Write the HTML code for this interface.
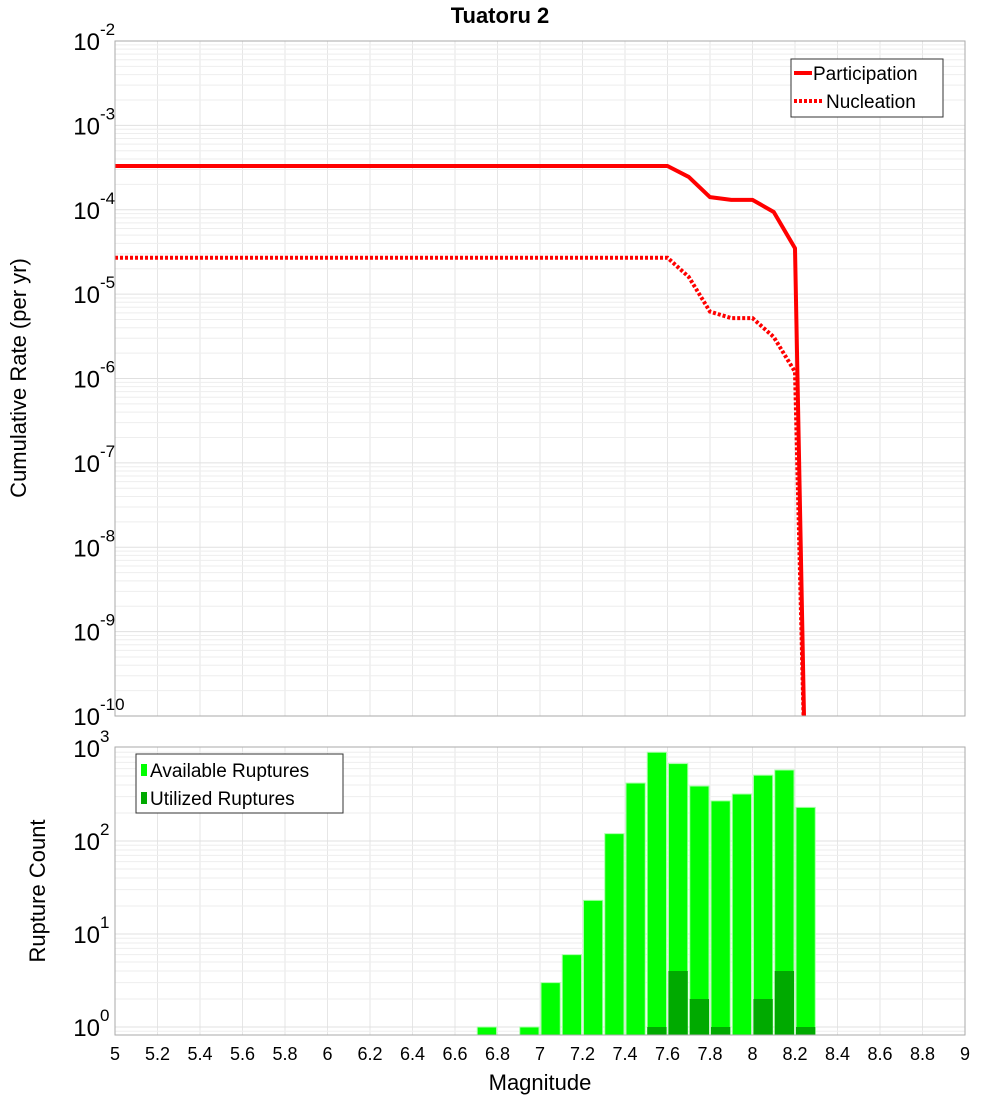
<!DOCTYPE html>
<html><head><meta charset="utf-8"><style>
body{margin:0;background:#fff;}
svg text{font-family:"Liberation Sans","DejaVu Sans",sans-serif;}
</style></head><body>
<svg id="chart" width="1000" height="1100" xmlns="http://www.w3.org/2000/svg">
<defs>
<clipPath id="clipTop"><rect x="115" y="41" width="850" height="675"/></clipPath>
<clipPath id="clipBot"><rect x="115" y="747" width="850" height="288"/></clipPath>
</defs>
<text x="500" y="23" text-anchor="middle" font-size="22" font-weight="bold">Tuatoru 2</text>
<g id="gridTop"></g><g id="gridBot"></g>
<g id="bars" clip-path="url(#clipBot)"></g>
<g id="lines" clip-path="url(#clipTop)"></g>
<rect x="115" y="41" width="850" height="675" fill="none" stroke="#aaa"/>
<rect x="115" y="747" width="850" height="288" fill="none" stroke="#aaa"/>
<g id="axes"></g>
<text transform="translate(26,378) rotate(-90)" text-anchor="middle" font-size="22">Cumulative Rate (per yr)</text>
<text transform="translate(45,891) rotate(-90)" text-anchor="middle" font-size="22">Rupture Count</text>
<text x="540" y="1090" text-anchor="middle" font-size="22">Magnitude</text>
<g>
<rect x="791" y="59" width="152" height="58" fill="#fff" stroke="#333"/>
<line x1="794" y1="73" x2="812" y2="73" stroke="red" stroke-width="4"/>
<text x="813" y="80" font-size="19">Participation</text>
<line x1="794" y1="101" x2="822" y2="101" stroke="red" stroke-width="4" stroke-dasharray="3,2"/>
<text x="826" y="108" font-size="19">Nucleation</text>
</g>
<g>
<rect x="136" y="754" width="207" height="59" fill="#fff" stroke="#333"/>
<rect x="141" y="764" width="6" height="12" fill="#00ff00"/>
<text x="150" y="777" font-size="19">Available Ruptures</text>
<rect x="141" y="792" width="6" height="12" fill="#00aa00"/>
<text x="150" y="805" font-size="19">Utilized Ruptures</text>
</g>
</svg>
<script>
const partMags=[5,7.6,7.7,7.8,7.9,8.0,8.1,8.2,8.25];
const partRates=[3.3e-4,3.3e-4,2.45e-4,1.41e-4,1.31e-4,1.31e-4,9.4e-5,3.5e-5,1e-11];
const nuclMags=[5,7.6,7.7,7.8,7.9,8.0,8.1,8.2,8.25];
const nuclRates=[2.7e-5,2.7e-5,1.6e-5,6.2e-6,5.2e-6,5.2e-6,3.1e-6,1.2e-6,1e-11];
const binStarts=[6.7,6.9,7.0,7.1,7.2,7.3,7.4,7.5,7.6,7.7,7.8,7.9,8.0,8.1,8.2];
const availCounts=[1,1,3,6,23,120,420,900,680,390,270,320,510,580,230];
const utilCounts=[0,0,0,0,0,0,0,1,4,2,1,0,2,4,1];
const xTicks=["5","5.2","5.4","5.6","5.8","6","6.2","6.4","6.6","6.8","7","7.2","7.4","7.6","7.8","8","8.2","8.4","8.6","8.8","9"];
const topExps=[-2,-3,-4,-5,-6,-7,-8,-9,-10];
const botExps=[3,2,1,0];

const NS="http://www.w3.org/2000/svg";
const X=m=>115+(m-5)*212.5;
const YT=v=>41+(-2-Math.log10(v))*84.375;
const YB=v=>1027-Math.log10(v)*93;
function mk(tag,attrs,parent){const e=document.createElementNS(NS,tag);for(const k in attrs)e.setAttribute(k,attrs[k]);document.getElementById(parent).appendChild(e);return e;}
// grids
for(const t of xTicks){const m=parseFloat(t);
 let g=mk('line',{x1:X(m),x2:X(m),y1:41,y2:716,stroke:'#e6e6e6'},'gridTop');
 
 
 g=mk('line',{x1:X(m),x2:X(m),y1:747,y2:1035,stroke:'#e6e6e6'},'gridBot');
 
 
 const tx=mk('text',{x:X(m),y:1060,'text-anchor':'middle','font-size':18},'axes');
 tx.textContent=t;
 
 
}
for(let e=-10;e<-2;e++)for(let k=1;k<10;k++){const y=YT(k*Math.pow(10,e));
 const g=mk('line',{x1:115,x2:965,y1:y,y2:y,stroke:k==1?'#e0e0e0':'#eeeeee'},'gridTop');
 
 }
for(let e=-1;e<3;e++)for(let k=1;k<10;k++){const y=YB(k*Math.pow(10,e));if(y>1035||y<747)continue;
 const g=mk('line',{x1:115,x2:965,y1:y,y2:y,stroke:k==1?'#e0e0e0':'#eeeeee'},'gridBot');
 
 }
function expLabel(e,y,name){const t=mk('text',{x:100,y:y+9,'text-anchor':'end','font-size':24},'axes');
 t.textContent='10';
 
 
 const s=mk('text',{x:100,y:y-6,'text-anchor':'start','font-size':17},'axes');
 s.textContent=String(e);
 
 }
for(const e of topExps)expLabel(e,YT(Math.pow(10,e)),'top-y-tick-label');
for(const e of botExps)expLabel(e,YB(Math.pow(10,e)),'bottom-y-tick-label');
// bars
binStarts.forEach((b,i)=>{
 const x0=X(b)+1,w=X(b+0.1)-X(b)-2;
 const y=YB(availCounts[i]);
 const r=mk('rect',{x:x0,y:y,width:w,height:1035-y,fill:'#00ff00',stroke:'#aaffaa','stroke-width':1},'bars');
 
 
 if(utilCounts[i]>0){const yu=YB(utilCounts[i]);
  const u=mk('rect',{x:x0,y:yu,width:w,height:1035-yu,fill:'#00aa00'},'bars');
  
  }
});
// lines
function pts(ms,vs){return ms.map((m,i)=>X(m)+','+YT(vs[i])).join(' ');}
const p=mk('polyline',{points:pts(partMags,partRates),fill:'none',stroke:'red','stroke-width':4,'stroke-linejoin':'round'},'lines');


const n=mk('polyline',{points:pts(nuclMags,nuclRates),fill:'none',stroke:'red','stroke-width':4,'stroke-dasharray':'3,2'},'lines');


</script>
</body></html>
